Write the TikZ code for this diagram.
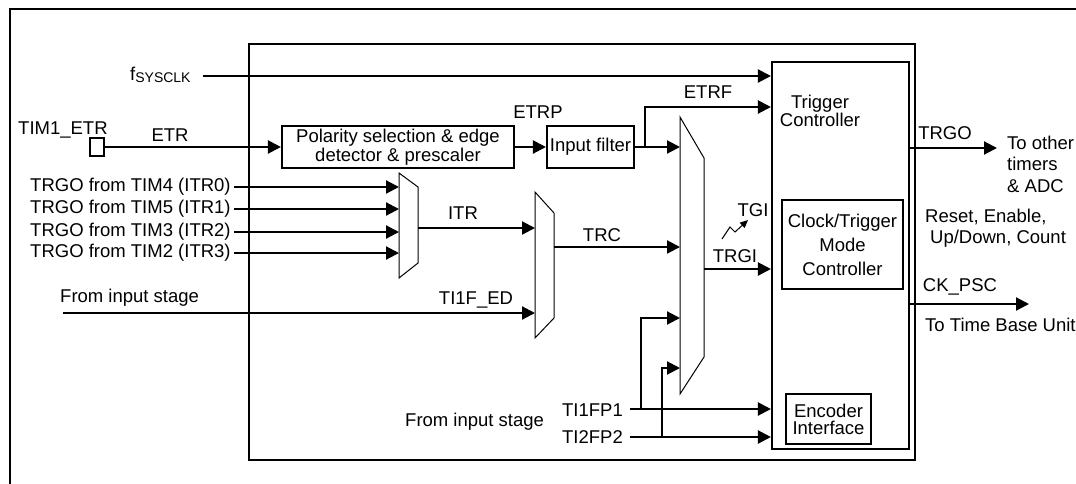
\documentclass[tikz,border=0pt]{standalone}
\usepackage{fontspec}
\setmainfont{Liberation Sans}
\usetikzlibrary{arrows.meta}
\definecolor{ink}{HTML}{000000}

\begin{document}
\begin{tikzpicture}[x=1pt,y=-1pt,
  txt/.style={inner sep=0pt,text=ink,font=\fontsize{18.5}{20}\selectfont},
  blk/.style={draw=ink,line width=2.1pt,inner sep=0pt},
  sig/.style={draw=ink,line width=2.1pt,-{Triangle[length=13pt,width=13pt]}},
  mux/.style={draw=ink,line width=1pt}]
\useasboundingbox (0,0) rectangle (1076,483);

% frames
\draw[ink,line width=2.1pt] (10,500) |- (1090,9);
\draw[ink,line width=2.1pt] (249,44) rectangle (915,460);

% blocks
\node[blk,minimum width=14pt,minimum height=18pt] (pin) at (97,147) {};
\node[blk,txt,minimum width=232pt,minimum height=42pt,align=center,
  font=\fontsize{18.5}{19}\selectfont] (pol) at (398,147)
  {Polarity selection \& edge\\detector \& prescaler};
\node[blk,txt,minimum width=87pt,minimum height=42pt] (filt) at (590.5,147) {Input filter};
\node[blk,minimum width=137pt,minimum height=387pt] (ctrl) at (840.5,255.5) {};
\node[txt,align=center,font=\fontsize{18.5}{16.5}\selectfont] (trig) at (820,111) {Trigger\\Controller};
\node[blk,txt,minimum width=121pt,minimum height=89pt,align=center,
  font=\fontsize{18.5}{24}\selectfont] (mode) at (842.5,244.5) {Clock/Trigger\\Mode\\Controller};
\node[blk,txt,minimum width=85pt,minimum height=50pt,align=center,
  font=\fontsize{18.5}{17}\selectfont] (enc) at (828.5,419) {Encoder\\Interface};

% multiplexers
\draw[mux] (399,173) -- (418,187) -- (418,263) -- (399,278) -- cycle;
\draw[mux] (535,192) -- (554,213) -- (554,318) -- (535,338) -- cycle;
\draw[mux] (680,117) -- (704,158) -- (704,357) -- (680,394) -- cycle;
\coordinate (m1w) at (399,0);
\coordinate (m1o) at (418,228);
\coordinate (m2a) at (535,228);
\coordinate (m2b) at (535,313);
\coordinate (m2o) at (554,247);
\coordinate (m3a) at (680,147);
\coordinate (m3b) at (680,247);
\coordinate (m3c) at (680,318);
\coordinate (m3d) at (680,368);
\coordinate (m3o) at (704,269);

% labels
\node[txt,anchor=base west] (clk) at (130,80)
  {f\raisebox{-2pt}{\fontsize{14}{14}\selectfont SYSCLK}};
\node[txt,anchor=base west] (etrpin) at (18,134) {TIM1\_ETR};
\node[txt] (etr) at (170,135) {ETR};
\node[txt] (etrp) at (538,112) {ETRP};
\node[txt] (etrf) at (708,92) {ETRF};
\node[txt,anchor=west] (t0) at (30,187) {TRGO from TIM4 (ITR0)};
\node[txt,anchor=west] (t1) at (30,209) {TRGO from TIM5 (ITR1)};
\node[txt,anchor=west] (t2) at (30,232) {TRGO from TIM3 (ITR2)};
\node[txt,anchor=west] (t3) at (30,253) {TRGO from TIM2 (ITR3)};
\node[txt] (itr) at (463,213) {ITR};
\node[txt] (trc) at (602,235) {TRC};
\node[txt,anchor=west] (inst1) at (60,298) {From input stage};
\node[txt] (tied) at (476,300) {TI1F\_ED};
\node[txt] (tgi) at (753,210) {TGI};
\node[txt] (trgi) at (735,256) {TRGI};
\node[txt,anchor=east] (tp1) at (623,410) {TI1FP1};
\node[txt,anchor=east] (tp2) at (623,437) {TI2FP2};
\node[txt,anchor=west] (inst2) at (405,422) {From input stage};
\node[txt] (trgo) at (945,133) {TRGO};
\node[txt,anchor=west,align=left,font=\fontsize{18.5}{21.5}\selectfont] (other) at (1007,164)
  {To other\\timers\\\& ADC};
\node[txt,anchor=west,align=left,font=\fontsize{18.5}{21}\selectfont] (ctl) at (925,228)
  {Reset, Enable,\\\hspace*{5pt}Up/Down, Count};
\node[txt] (ckpsc) at (960,287) {CK\_PSC};
\node[txt,anchor=west] (tbu) at (925,325) {To Time Base Unit};

% connectors
\coordinate (clkin) at (203,76);
\draw[sig] (clkin) -- (ctrl.west |- clkin);
\draw[sig] (pin.east) -- (pol.west);
\draw[sig] (pol.east) -- (filt.west);
\draw[sig] (filt.east) -- (m3a);
\coordinate (etrfb) at (645,147);
\draw[sig] (etrfb) |- (ctrl.west |- 0,107);
\foreach \t in {t0,t1,t2,t3}
  \draw[sig] ([xshift=3pt]\t.east) -- (\t.east -| m1w);
\draw[sig] (m1o) -- (m2a);
\coordinate (ti1f) at (63,313);
\draw[sig] (ti1f) -- (m2b);
\draw[sig] (m2o) -- (m3b);
\draw[sig] (m3o) -- (ctrl.west |- m3o);
\coordinate (tp1s) at (630,409);
\coordinate (tp2s) at (630,437);
\draw[sig] (tp1s) -- (ctrl.west |- tp1s);
\draw[sig] (tp2s) -- (ctrl.west |- tp2s);
\draw[sig] (641,409) |- (m3c);
\draw[sig] (662,437) |- (m3d);
\coordinate (trgoend) at (997,148);
\coordinate (ckend) at (1029,304);
\draw[sig] (ctrl.east |- trgoend) -- (trgoend);
\draw[sig] (ctrl.east |- ckend) -- (ckend);
\draw[ink,line width=1pt,-{Triangle[length=8pt,width=7pt]}]
  (722,239) -- (730,227) -- (735,232) -- (748,220);
\end{tikzpicture}
\end{document}
